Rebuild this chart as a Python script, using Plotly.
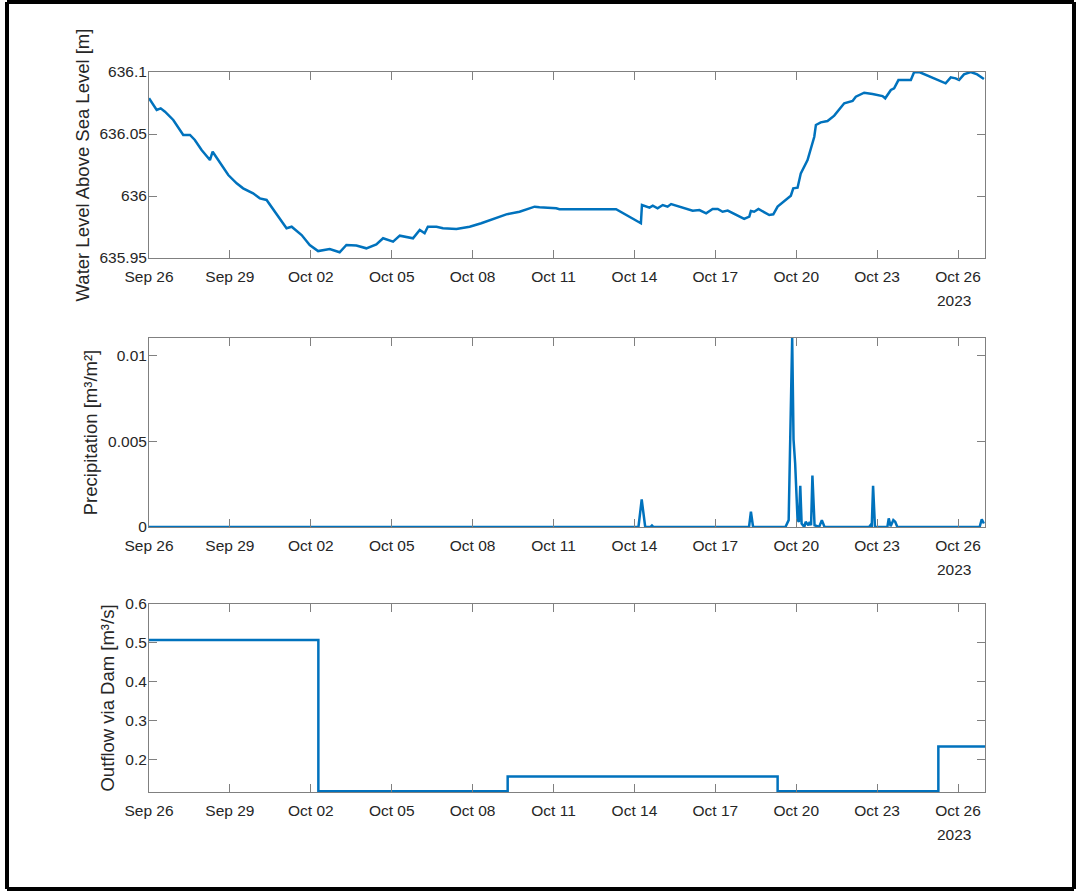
import plotly.graph_objects as go
import pandas as pd

START = "2023-09-26"

# ---- Water level (elapsed days since Sep 26 00:00, metres above sea level)
wl_days = [0.00, 0.285, 0.433, 0.593, 0.90, 1.27, 1.52, 1.70, 1.95, 2.26, 2.36, 2.57,
           2.94, 3.25, 3.49, 3.86, 4.11, 4.36, 4.67, 5.10, 5.29, 5.66, 5.96, 6.27,
           6.70, 7.07, 7.32, 7.69, 8.06, 8.43, 8.68, 9.05, 9.30, 9.79, 10.04, 10.22,
           10.34, 10.66, 10.90, 11.40, 11.89, 12.32, 13.25, 13.74, 14.30, 14.48, 15.10,
           15.22, 17.32, 18.24, 18.28, 18.56, 18.68, 18.86, 19.05, 19.23, 19.36, 19.91,
           20.16, 20.41, 20.66, 20.90, 21.09, 21.27, 21.46, 22.07, 22.26, 22.32, 22.44,
           22.60, 23.00, 23.15, 23.31, 23.80, 23.89, 24.05, 24.17, 24.42, 24.67, 24.73,
           24.91, 25.16, 25.41, 25.78, 26.09, 26.21, 26.52, 26.83, 27.20, 27.30, 27.51,
           27.63, 27.79, 28.25, 28.37, 28.56, 29.54, 29.73, 29.91, 30.04, 30.22, 30.47,
           30.71, 30.96]
wl_vals = [636.0788, 636.0694, 636.0707, 636.0680, 636.0613, 636.0492, 636.0492, 636.0452,
           636.0371, 636.0290, 636.0357, 636.0290, 636.0169, 636.0102, 636.0062, 636.0022,
           635.9981, 635.9968, 635.9873, 635.9740, 635.9752, 635.9685, 635.9605, 635.9556,
           635.9573, 635.9546, 635.9605, 635.9600, 635.9578, 635.9610, 635.9659, 635.9632,
           635.9680, 635.9659, 635.9726, 635.9700, 635.9752, 635.9752, 635.9740, 635.9734,
           635.9752, 635.9780, 635.9852, 635.9873, 635.9914, 635.9909, 635.9901, 635.9893,
           635.9893, 635.9780, 635.9927, 635.9906, 635.9922, 635.9901, 635.9927, 635.9914,
           635.9935, 635.9901, 635.9882, 635.9887, 635.9860, 635.9895, 635.9895, 635.9873,
           635.9882, 635.9815, 635.9833, 635.9879, 635.9873, 635.9895, 635.9847, 635.9852,
           635.9914, 636.0002, 636.0062, 636.0067, 636.0183, 636.0290, 636.0478, 636.0573,
           636.0594, 636.0605, 636.0648, 636.0748, 636.0766, 636.0801, 636.0833, 636.0823,
           636.0806, 636.0788, 636.0855, 636.0869, 636.0935, 636.0935, 636.0998, 636.1000,
           636.0909, 636.0957, 636.0949, 636.0935, 636.0981, 636.1000, 636.0981, 636.0944]

# ---- Precipitation (elapsed days, m3/m2)
precip_days = [0.00, 18.15, 18.27, 18.40, 18.60, 18.65, 18.70, 22.25, 22.32, 22.40,
               23.60, 23.72, 23.85, 23.90, 23.96, 24.05, 24.10, 24.15, 24.20, 24.30,
               24.35, 24.45, 24.50, 24.55, 24.60, 24.68, 24.85, 24.95, 25.05, 26.70,
               26.75, 26.80, 26.85, 26.92, 27.38, 27.43, 27.50, 27.60, 27.67, 27.75,
               30.80, 30.88, 30.96]
precip_vals = [0.0, 0.0, 0.0016, 0.0, 0.0, 0.00008, 0.0, 0.0, 0.00089, 0.0,
               0.0, 0.0004, 0.0110, 0.0051, 0.0037, 0.0004, 0.0003, 0.0024, 0.0002, 0.0,
               0.0003, 0.0001, 0.0003, 0.0001, 0.0030, 0.0001, 0.0, 0.0004, 0.0, 0.0,
               0.0001, 0.0, 0.0024, 0.0, 0.0, 0.0005, 0.00005, 0.0004, 0.0003, 0.0,
               0.0, 0.00045, 0.0002]

# ---- Outflow via dam (elapsed days, m3/s), step-wise
outflow_days = [0.00, 6.28, 13.30, 23.31, 29.27, 31.00]
outflow_vals = [0.507, 0.118, 0.156, 0.118, 0.233, 0.233]

x_tick_step_days = 3
year_label = "2023"


def to_time(days):
    return pd.Timestamp(START) + pd.to_timedelta(days, unit="D")


W, H = 1078, 892
BLUE = "#0072BD"
AXC = "#808080"
TXT = "#262626"
FONT = "Liberation Sans, Arial, Helvetica, sans-serif"
TICK_SIZE = 15.5

fig = go.Figure()
fig.add_trace(go.Scatter(x=to_time(wl_days), y=wl_vals, mode="lines",
                         line=dict(color=BLUE, width=2.5), xaxis="x", yaxis="y",
                         showlegend=False))
fig.add_trace(go.Scatter(x=to_time(precip_days), y=precip_vals, mode="lines",
                         line=dict(color=BLUE, width=2.5), xaxis="x2", yaxis="y2",
                         showlegend=False))
fig.add_trace(go.Scatter(x=to_time(outflow_days), y=outflow_vals, mode="lines",
                         line=dict(color=BLUE, width=2.5, shape="hv"), xaxis="x3",
                         yaxis="y3", showlegend=False))

xdom = [149 / W, 985 / W]
panels = [(72, 258), (338, 527), (604, 792)]
ydoms = [[1 - b / H, 1 - t / H] for t, b in panels]

xrange_ = [to_time(0), to_time(31)]
common = dict(showline=True, linecolor=AXC, linewidth=1, mirror="ticks",
              ticks="inside", ticklen=8, tickcolor=AXC, tickwidth=1,
              showgrid=False, zeroline=False, automargin=False,
              tickfont=dict(family=FONT, size=TICK_SIZE, color=TXT))

yspecs = [
    dict(title="Water Level Above Sea Level [m]", range=[635.95, 636.1],
         tickvals=[635.95, 636.0, 636.05, 636.1],
         ticktext=["635.95", "636", "636.05", "636.1"]),
    dict(title="Precipitation [m³/m²]", range=[0, 0.011],
         tickvals=[0, 0.005, 0.01], ticktext=["0", "0.005", "0.01"]),
    dict(title="Outflow via Dam [m³/s]", range=[0.116, 0.6],
         tickvals=[0.2, 0.3, 0.4, 0.5, 0.6],
         ticktext=["0.2", "0.3", "0.4", "0.5", "0.6"]),
]

layout = dict(width=W, height=H, margin=dict(l=0, r=0, t=0, b=0, pad=0),
              paper_bgcolor="white", plot_bgcolor="white",
              font=dict(family=FONT, color=TXT), showlegend=False)
for i in range(3):
    sx = "" if i == 0 else str(i + 1)
    layout["xaxis" + sx] = dict(domain=xdom, anchor="y" + sx, type="date",
                                range=xrange_, tick0=to_time(0),
                                dtick=x_tick_step_days * 86400000,
                                tickformat="%b %d", ticklabelstandoff=4, **common)
    ys = yspecs[i]
    layout["yaxis" + sx] = dict(domain=ydoms[i], anchor="x" + sx,
                                range=ys["range"], tickvals=ys["tickvals"],
                                ticktext=ys["ticktext"], ticklabelstandoff=-2,
                                title=dict(text=ys["title"], standoff=5,
                                           font=dict(family=FONT, size=18.5, color=TXT)),
                                **common)
fig.update_layout(**layout)

# year labels under the last tick
for t, b in panels:
    fig.add_annotation(x=935 / W, y=1 - (b + 42) / H, xref="paper", yref="paper",
                       text=year_label, showarrow=False, xanchor="left",
                       yanchor="middle", font=dict(family=FONT, size=TICK_SIZE, color=TXT))

# outer black frame
frame = [(7, 2, 1074, 2), (7, 2, 7, 889), (7, 889, 1074, 889), (1074, 2, 1074, 889)]
for x0, y0, x1, y1 in frame:
    fig.add_shape(type="line", xref="paper", yref="paper",
                  x0=x0 / W, y0=1 - y0 / H, x1=x1 / W, y1=1 - y1 / H,
                  line=dict(color="black", width=4))

fig.write_html("out.html")
